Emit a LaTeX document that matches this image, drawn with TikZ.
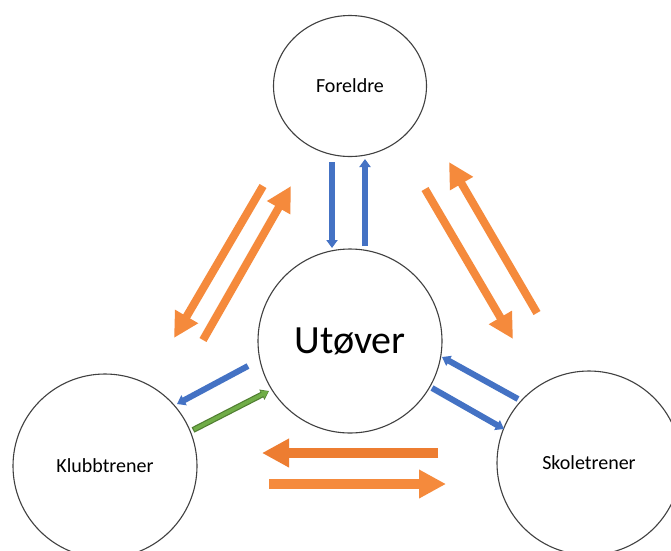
\documentclass[tikz,border=0pt]{standalone}
\usepackage{fontspec}
\setmainfont{Carlito}
\usetikzlibrary{arrows.meta,shapes.geometric}
\definecolor{ringgray}{HTML}{404040}
\definecolor{orA}{HTML}{F58A3C}
\definecolor{orB}{HTML}{ED7D31}
\definecolor{blA}{HTML}{4472C4}
\definecolor{grA}{HTML}{70AD47}
\definecolor{grB}{HTML}{507E32}
\tikzset{
  ring/.style={circle, draw=ringgray, line width=1.1pt, fill=white, inner sep=0pt, font=\fontsize{20}{24}\selectfont},
  orarrow/.style={draw=orA, line width=8pt, -{Triangle[width=25pt,length=25pt]}},
  orbig/.style={line width=10pt, -{Triangle[width=27pt,length=27pt]}},
  blarrow/.style={draw=blA, line width=6pt, -{Triangle[width=11pt,length=8pt]}},
}
\begin{document}
\begin{tikzpicture}[x=1pt,y=-1pt]
\clip (0,0) rectangle (671,550);
\fill[white] (0,0) rectangle (671,550);
% nodes
\node[ring, ellipse, minimum width=153pt, minimum height=141pt] (for) at (350,86) {Foreldre};
\node[ring, minimum size=184pt, font=\fontsize{40}{48}\selectfont] (uto) at (350,341) {Utøver};
\node[ring, minimum size=184pt] (klu) at (105,466) {Klubbtrener};
\node[ring, minimum size=184pt] (sko) at (589,463) {Skoletrener};
% arrow end points
\coordinate (fu1) at (332,162); \coordinate (fu2) at (332,248);
\coordinate (uf1) at (365,246); \coordinate (uf2) at (365,159);
\coordinate (fk1) at (263,186); \coordinate (fk2) at (174,338);
\coordinate (kf1) at (203,340); \coordinate (kf2) at (291,186);
\coordinate (fs1) at (425,189); \coordinate (fs2) at (513,339);
\coordinate (sf1) at (537,313); \coordinate (sf2) at (449,162);
\coordinate (uk1) at (248,366); \coordinate (uk2) at (177,404);
\coordinate (ku1) at (193,430); \coordinate (ku2) at (269,391);
\coordinate (su1) at (518,399); \coordinate (su2) at (442,357);
\coordinate (us1) at (432,388); \coordinate (us2) at (504,429);
\coordinate (sk1) at (438,453); \coordinate (sk2) at (262,453);
\coordinate (ks1) at (269,484); \coordinate (ks2) at (446,484);
% Foreldre <-> Utøver
\draw[blarrow] (fu1) -- (fu2);
\draw[blarrow] (uf1) -- (uf2);
% Foreldre <-> Klubbtrener
\draw[orarrow] (fk1) -- (fk2);
\draw[orarrow] (kf1) -- (kf2);
% Foreldre <-> Skoletrener
\draw[orarrow] (fs1) -- (fs2);
\draw[orarrow] (sf1) -- (sf2);
% Utøver <-> Klubbtrener
\draw[blarrow] (uk1) -- (uk2);
\draw[draw=grB, line width=6pt, -{Triangle[width=11pt,length=8pt]}] (ku1) -- (ku2);
\draw[draw=grA, line width=3.6pt, -{Triangle[width=8pt,length=6.5pt]}, shorten >=0.8pt, shorten <=1.2pt] (ku1) -- (ku2);
% Utøver <-> Skoletrener
\draw[blarrow] (su1) -- (su2);
\draw[blarrow] (us1) -- (us2);
% Klubbtrener <-> Skoletrener
\draw[orbig, draw=orB] (sk1) -- (sk2);
\draw[orbig, draw=orA] (ks1) -- (ks2);
\end{tikzpicture}
\end{document}
